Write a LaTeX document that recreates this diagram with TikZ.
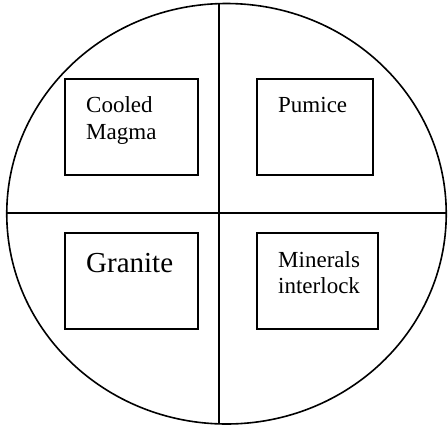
\documentclass[tikz,border=0pt]{standalone}
\usepackage{fontspec}
\setmainfont{Liberation Serif}
\usetikzlibrary{shapes.geometric}
\begin{document}
\begin{tikzpicture}[x=1pt,y=-1pt,
  rim/.style={draw, ellipse, line width=1.6pt, inner sep=0},
  divider/.style={line width=1.6pt},
  box/.style={draw, line width=1.1pt, inner sep=0, minimum height=96pt},
  lbl/.style={font=\fontsize{23}{26}\selectfont, inner sep=0, anchor=base west},
  biglbl/.style={font=\fontsize{29}{32}\selectfont, inner sep=0, anchor=base west}]
\useasboundingbox (0,0) rectangle (448,429);
\node[rim, minimum width=439.5pt, minimum height=420.5pt] (oval) at (226.5,213.75) {};
\coordinate (vtop) at (219,3.6);
\coordinate (vbot) at (219,423.9);
\coordinate (hleft) at (7,213);
\coordinate (hright) at (446,213);
\draw[divider] (vtop) -- (vbot);
\draw[divider] (hleft) -- (hright);
\node[box, minimum width=133pt] (tl) at (131.5,127) {};
\node[box, minimum width=116pt] (tr) at (315,127) {};
\node[box, minimum width=133pt] (bl) at (131.5,281) {};
\node[box, minimum width=121pt] (br) at (317.5,281) {};
\node[lbl] (t1a) at (86,112) {Cooled};
\node[lbl] (t1b) at (86,139) {Magma};
\node[lbl] (t2) at (278,112) {Pumice};
\node[biglbl] (t3) at (86,272) {Granite};
\node[lbl] (t4a) at (278,267) {Minerals};
\node[lbl] (t4b) at (278,293) {interlock};
\end{tikzpicture}
\end{document}
